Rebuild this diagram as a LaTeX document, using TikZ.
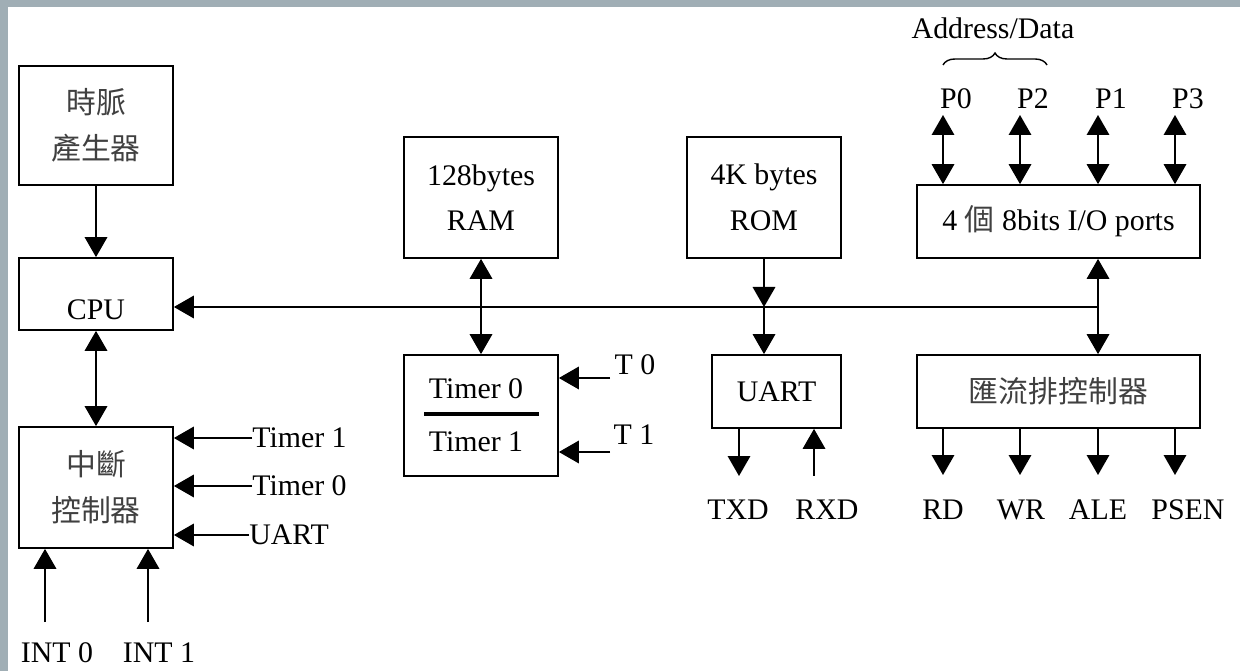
\documentclass[tikz,border=0pt]{standalone}
\usepackage{fontspec}
\setmainfont{Liberation Serif}
\newfontfamily\cjk{Noto Sans CJK TC}
\usepackage{xcolor}
\usetikzlibrary{arrows.meta,positioning,calc,decorations.pathreplacing}
\definecolor{framegray}{RGB}{160,174,181}

\begin{document}
\begin{tikzpicture}[
    x=0.02cm, y=-0.02cm,
    every node/.style={font=\fontsize{17}{26}\selectfont},
    block/.style={draw, line width=1pt, inner sep=0pt, align=center, minimum width=3.08cm, minimum height=2.42cm},
    flat/.style={block, minimum height=1.46cm},
    wide/.style={flat, minimum width=5.66cm},
    lbl/.style={inner sep=0pt},
    cn/.style={text=black!75},
    arr/.style={line width=1pt, -{Triangle[length=0.4cm,width=0.45cm]}},
    dbl/.style={line width=1pt, {Triangle[length=0.4cm,width=0.45cm]}-{Triangle[length=0.4cm,width=0.45cm]}},
    divider/.style={line width=1.8pt},
    brace/.style={line width=0.8pt, decorate, decoration={brace, amplitude=0.24cm}}
]

\fill[framegray] (0,0) rectangle (1240,671);
\fill[white] (8,7) rectangle (1240,671);
\useasboundingbox (0,0) rectangle (1240,671);

\node[block, cn, minimum height=2.38cm] (clk) at (96,125.5) {\cjk 時脈\\ \cjk 產生器};
\node[block, minimum height=1.44cm] (cpu) at (96,294) {\raisebox{-0.52cm}[0pt][0pt]{CPU}};
\node[block, cn] (intc) at (96,487.5) {\cjk 中斷\\ \cjk 控制器};
\node[block] (ram) at (481,197.5) {128bytes\\RAM};
\node[block] (tmr) at (481,415.5) {\hspace*{-0.2cm}Timer 0\\[4pt]\hspace*{-0.2cm}Timer 1};
\node[block] (rom) at (764,197.5) {4K bytes\\ROM};
\node[flat, minimum width=2.58cm] (uart) at (776.5,391.5) {UART};
\node[wide] (io) at (1058.5,221.5) {4 {\cjk\color{black!75}個} 8bits I/O ports};
\node[wide, cn] (busc) at (1058.5,391.5) {\cjk 匯流排控制器};

\draw[divider] ($(tmr.west)+(21,-1.5)$) -- ($(tmr.east)+(-20,-1.5)$);

% system bus
\coordinate (busjoin) at (1098,307);
\draw[arr] (busjoin) -- (cpu.east |- busjoin);
\draw[dbl] (busjoin |- io.south) -- (busjoin |- busc.north);
\draw[arr] (rom.south) -- (rom.south |- busjoin);
\draw[arr] (rom.south |- busjoin) -- (rom.south |- uart.north);
\draw[dbl] (ram) -- (tmr);
\draw[arr] (clk) -- (cpu);
\draw[dbl] (cpu) -- (intc);

% interrupt sources
\node[lbl, anchor=west] (tin1) at (252,438) {Timer 1};
\node[lbl, anchor=west] (tin0) at (252,486) {Timer 0};
\node[lbl, anchor=west] (uin) at (249,535) {UART};
\draw[arr] (tin1.west) -- (tin1.west -| intc.east);
\draw[arr] (tin0.west) -- (tin0.west -| intc.east);
\draw[arr] (uin.west) -- (uin.west -| intc.east);

\node (int0) at (57,653) {INT 0};
\node (int1) at (159,653) {INT 1};
\coordinate (int0end) at (45,622);
\coordinate (int1end) at (148,622);
\draw[arr] (int0end) -- (int0end |- intc.south);
\draw[arr] (int1end) -- (int1end |- intc.south);

% timer inputs
\node[lbl] (t0in) at (635,365) {T 0};
\node[lbl] (t1in) at (634,435) {T 1};
\coordinate (t0end) at (610,378);
\coordinate (t1end) at (610,452);
\draw[arr] (t0end) -- (t0end -| tmr.east);
\draw[arr] (t1end) -- (t1end -| tmr.east);

% serial port
\node (txd) at (738,510) {TXD};
\node (rxd) at (827,510) {RXD};
\coordinate (txdend) at (739,476);
\coordinate (rxdend) at (814,476);
\draw[arr] (txdend |- uart.south) -- (txdend);
\draw[arr] (rxdend) -- (rxdend |- uart.south);

% I/O ports
\foreach \x/\name in {943/P0, 1020/P2, 1098/P1, 1175/P3} {
  \node (\name) at (\x+13,99) {\name};
  \coordinate (\name top) at (\x,115);
  \draw[dbl] (\name top) -- (\name top |- io.north);
}
\draw[brace] (943,65) -- (1047,65);
\node (addr) at (993,28) {Address/Data};

% bus control lines
\foreach \x/\lx/\name in {943/943/RD, 1020/1021/WR, 1098/1098/ALE, 1175/1188/PSEN} {
  \coordinate (\name end) at (\x,475);
  \draw[arr] (\name end |- busc.south) -- (\name end);
  \node (\name) at (\lx,510) {\name};
}

\end{tikzpicture}
\end{document}
